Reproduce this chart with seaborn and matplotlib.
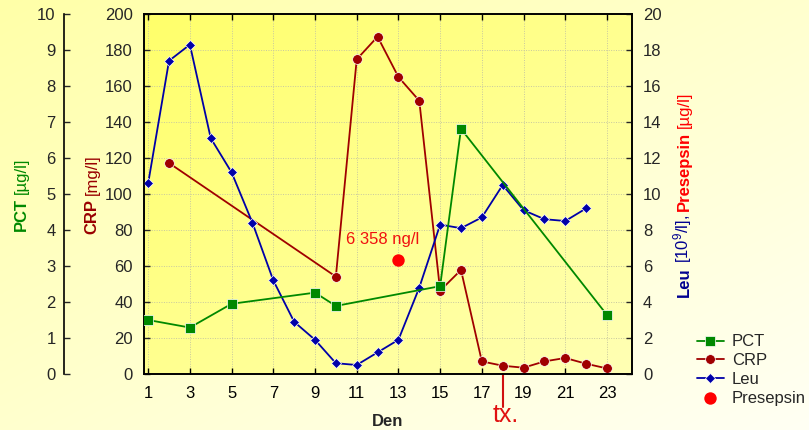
import numpy as np
import pandas as pd
import matplotlib
matplotlib.use("Agg")
import matplotlib.pyplot as plt
import matplotlib.transforms as mtransforms
import seaborn as sns

# ---------------- data ----------------
pct_days = [1, 3, 5, 9, 10, 15, 16, 23]
pct_vals = [1.50, 1.29, 1.95, 2.26, 1.89, 2.44, 6.81, 1.64]

crp_days = [2, 10, 11, 12, 13, 14, 15, 16, 17, 18, 19, 20, 21, 22, 23]
crp_vals = [117.2, 54.1, 174.8, 187.4, 165.0, 151.8, 46.3, 57.8, 7.0, 4.6, 3.5, 7.0, 8.9, 5.7, 3.1]

leu_days = list(range(1, 23))
leu_vals = [10.6, 17.4, 18.3, 13.1, 11.2, 8.4, 5.2, 2.9, 1.9, 0.6, 0.5, 1.2,
            1.9, 4.8, 8.3, 8.1, 8.7, 10.5, 9.1, 8.6, 8.5, 9.2]

pres_days = [13]
pres_vals = [6.358]
pres_label = "6 358 ng/l"
tx_day = 18

x_ticks = list(range(1, 24, 2))

# ---------------- style ----------------
sns.set_style("ticks")
plt.rcParams["font.family"] = ["Liberation Sans", "DejaVu Sans"]
plt.rcParams["mathtext.fontset"] = "custom"
plt.rcParams["mathtext.rm"] = "Liberation Sans"
plt.rcParams["mathtext.default"] = "regular"

W, H = 809, 430
fig = plt.figure(figsize=(W / 100, H / 100), dpi=100)

# plot-area in pixels
L, R, T, B = 144, 632, 14, 374
ax_rect = [L / W, 1 - B / H, (R - L) / W, (B - T) / H]

# background gradients
bg = fig.add_axes([0, 0, 1, 1], zorder=-5)
bg.set_axis_off()
bg.set_xlim(0, 1)
bg.set_ylim(0, 1)


def grad(c0, c1, n=200):
    xx, yy = np.meshgrid(np.linspace(0, 1, n), np.linspace(0, 1, n))
    t = (xx + yy) / 2.0  # yy=0 at top (origin upper)
    c0 = np.array(matplotlib.colors.to_rgb(c0))
    c1 = np.array(matplotlib.colors.to_rgb(c1))
    return c0[None, None, :] * (1 - t[..., None]) + c1[None, None, :] * t[..., None]


bg.imshow(grad("#FFFFA8", "#FFFFF4"), extent=(0, 1, 0, 1), origin="upper",
          aspect="auto", interpolation="bilinear")
bg.imshow(grad("#FFFF6A", "#FFFFB4"),
          extent=(ax_rect[0], ax_rect[0] + ax_rect[2], ax_rect[1], ax_rect[1] + ax_rect[3]),
          origin="upper", aspect="auto", interpolation="bilinear")

ax = fig.add_axes(ax_rect)          # CRP
ax.patch.set_visible(False)
ax_r = ax.twinx()                   # Leu / Presepsin
ax_p = ax.twinx()                   # PCT
for a in (ax_r, ax_p):
    a.patch.set_visible(False)

c_pct = "#008800"
c_crp = "#A00000"
c_leu = "#0000A8"
c_pres = "#FF0000"

df_crp = pd.DataFrame({"day": crp_days, "v": crp_vals})
df_leu = pd.DataFrame({"day": leu_days, "v": leu_vals})
df_pct = pd.DataFrame({"day": pct_days, "v": pct_vals})
df_pres = pd.DataFrame({"day": pres_days, "v": pres_vals})

sns.lineplot(data=df_crp, x="day", y="v", ax=ax, color=c_crp, marker="o",
             markersize=7, markeredgecolor="white", markeredgewidth=0.5,
             linewidth=1.3, label="CRP", legend=False)
sns.lineplot(data=df_leu, x="day", y="v", ax=ax_r, color=c_leu, marker="D",
             markersize=5, markeredgecolor="white", markeredgewidth=0.5,
             linewidth=1.3, label="Leu", legend=False)
sns.scatterplot(data=df_pres, x="day", y="v", ax=ax_r, color=c_pres, s=80,
                linewidth=0, label="Presepsin", legend=False, zorder=5)
sns.lineplot(data=df_pct, x="day", y="v", ax=ax_p, color=c_pct, marker="s",
             markersize=6.5, markeredgecolor="white", markeredgewidth=0.5,
             linewidth=1.3, label="PCT", legend=False)

for a in (ax, ax_r, ax_p):
    a.set_xlabel("")
    a.set_ylabel("")
    a.set_xlim(0.8, 24.2)

ax.set_ylim(0, 200)
ax_r.set_ylim(0, 20)
ax_p.set_ylim(0, 10)

ax.set_xticks(x_ticks)
ax.set_yticks(np.arange(0, 201, 20))
ax_r.set_yticks(np.arange(0, 21, 2))
ax_p.set_yticks(np.arange(0, 11, 1))

fs = 12
ax.tick_params(axis="x", direction="in", top=True, bottom=True, length=4,
               width=1, labelsize=fs, pad=9, colors="black")
ax.tick_params(axis="y", direction="in", left=True, right=False, length=4,
               width=1, labelsize=fs, pad=8)
ax_r.tick_params(axis="y", direction="in", length=4, width=1, labelsize=fs, pad=8)

# PCT axis: offset left spine
ax_p.yaxis.set_ticks_position("left")
ax_p.yaxis.set_label_position("left")
ax_p.spines["left"].set_position(("axes", (64 - L) / (R - L)))
for s in ("right", "top", "bottom"):
    ax_p.spines[s].set_visible(False)
ax_p.spines["left"].set_visible(True)
ax_p.tick_params(axis="y", direction="in", left=True, right=False, length=4,
                 width=1, labelsize=fs, pad=6)
ax_p.tick_params(axis="x", bottom=False, top=False, labelbottom=False)
ax_r.tick_params(axis="x", bottom=False, top=False, labelbottom=False)

for a in (ax, ax_r, ax_p):
    for s in a.spines.values():
        s.set_linewidth(1.2)
        s.set_color("black")

ax.grid(True, color="#c8c8a0", linestyle=(0, (1, 1.5)), linewidth=0.7)
ax.set_axisbelow(True)

# annotations
ax_r.annotate(pres_label, xy=(pres_days[0], pres_vals[0]), xytext=(-11.5, 14.4),
              textcoords="offset points", ha="center", va="center",
              color="#F01010", fontsize=12)

blend = mtransforms.blended_transform_factory(ax.transData, ax.transAxes)
ax.plot([tx_day, tx_day], [0, -33 / (B - T)], transform=blend, color="#D01010",
        linewidth=1.5, clip_on=False)
ax.text(tx_day + 0.15, -48 / (B - T), "tx.", transform=blend, ha="center",
        va="baseline", color="#E01010", fontsize=18)

fig.text(388 / W, 1 - 422 / H, "Den", ha="center", va="center",
         fontsize=12, fontweight="bold")

# multi-coloured rotated axis labels
fig.canvas.draw()
renderer = fig.canvas.get_renderer()


def rot_label(pieces, x_px, yc_px, gap=4.0):
    texts = []
    for s, col, wt in pieces:
        t = fig.text(0, 0, s, rotation=90, rotation_mode="anchor", ha="left",
                     va="baseline", color=col, fontweight=wt, fontsize=12)
        texts.append(t)
    lens = [t.get_window_extent(renderer).height for t in texts]
    total = sum(lens) + gap * (len(texts) - 1)
    y = (H - yc_px) - total / 2
    for t, ln in zip(texts, lens):
        t.set_position((x_px / W, y / H))
        y += ln + gap


rot_label([("PCT", c_pct, "bold"), ("[µg/l]", c_pct, "normal")], 25.5, 194)
rot_label([("CRP", "#990000", "bold"), ("[mg/l]", "#990000", "normal")], 96.5, 194)
rot_label([("Leu", "#000090", "bold"), ("[10$^{9}$/l],", "#000090", "normal"),
           ("Presepsin", "#FF0000", "bold"), ("[µg/l]", "#FF0000", "normal")], 688.5, 194)

# legend
handles, labels = [], []
for a in (ax_p, ax, ax_r):
    h, l = a.get_legend_handles_labels()
    handles += h
    labels += l
order = ["PCT", "CRP", "Leu", "Presepsin"]
hd = dict(zip(labels, handles))
fig.legend([hd[k] for k in order], order, loc="center left",
           bbox_to_anchor=(697 / W, 1 - 370 / H), frameon=False, fontsize=12,
           borderpad=0, borderaxespad=0, handlelength=1.6, handletextpad=0.5,
           labelspacing=0.22)

fig.savefig("out.png", dpi=100)
